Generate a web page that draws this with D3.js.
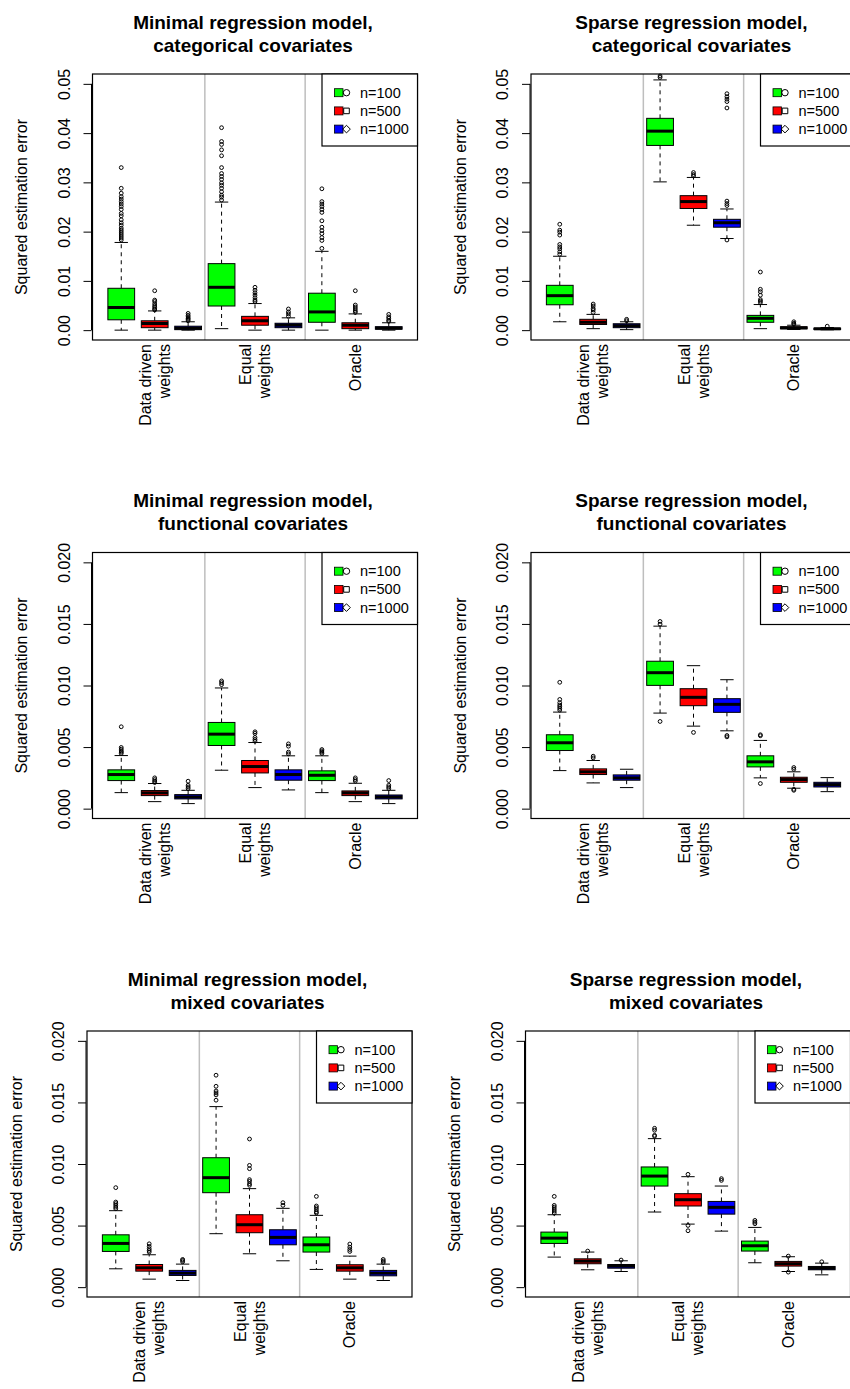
<!DOCTYPE html>
<html>
<head>
<meta charset="utf-8">
<script src="https://cdn.jsdelivr.net/npm/d3@7"></script>
<style>
  body { margin: 0; background: #fff; }
  svg text { font-family: "Liberation Sans", Arial, Helvetica, sans-serif; fill: #000; }
</style>
</head>
<body>
<div id="chart"></div>
<script>
// methods (x groups) and sample sizes (boxes inside each group)
const methods = [["Data driven", "weights"], ["Equal", "weights"], ["Oracle"]];
const sampleSizes = ["n=100", "n=500", "n=1000"];
const sizeColors = ["#00ff00", "#ff0000", "#0000ff"];
const sizeSymbols = ["circle", "square", "diamond"];

const panelTitles = [
  ["Minimal regression model,", "categorical covariates"],
  ["Sparse regression model,", "categorical covariates"],
  ["Minimal regression model,", "functional covariates"],
  ["Sparse regression model,", "functional covariates"],
  ["Minimal regression model,", "mixed covariates"],
  ["Sparse regression model,", "mixed covariates"]
];
const yLabel = "Squared estimation error";
const panelMax = [0.05, 0.05, 0.02, 0.02, 0.02, 0.02];
const catTicks = [0, 0.01, 0.02, 0.03, 0.04, 0.05];
const funTicks = [0, 0.005, 0.01, 0.015, 0.02];

// box stats: [lower whisker, Q1, median, Q3, upper whisker]
// order: DD n100, n500, n1000, EW n100, n500, n1000, Oracle n100, n500, n1000
const minCatBoxes = [
  [0, 0.0021, 0.0046, 0.0085, 0.0178],
  [0, 0.0005, 0.00135, 0.0019, 0.0039],
  [0, 0.0001, 0.0004, 0.0008, 0.0017],
  [0.0003, 0.0049, 0.0087, 0.0135, 0.026],
  [0, 0.001, 0.0019, 0.0028, 0.0054],
  [0, 0.0005, 0.001, 0.0014, 0.0025],
  [0, 0.0016, 0.0037, 0.0075, 0.016],
  [0, 0.0003, 0.001, 0.0015, 0.0033],
  [0, 0.0002, 0.0004, 0.0007, 0.0015]
];
const minCatOutliers = [
  [0.033, 0.0288, 0.0278, 0.0271, 0.0266, 0.0261, 0.0256, 0.0251, 0.0245, 0.0237, 0.0232, 0.0224, 0.0218, 0.0213, 0.0207, 0.0203, 0.0199, 0.0195, 0.0191, 0.0187, 0.0183],
  [0.008, 0.0061, 0.0058, 0.0053, 0.0049, 0.0046, 0.0043, 0.0041],
  [0.0034, 0.003, 0.0027, 0.0024, 0.0022, 0.0019],
  [0.0411, 0.0383, 0.0377, 0.0366, 0.0354, 0.033, 0.0318, 0.0312, 0.0306, 0.0299, 0.0294, 0.0288, 0.0281, 0.0274, 0.027, 0.0264],
  [0.0087, 0.0081, 0.0076, 0.0071, 0.0066, 0.0061, 0.0058],
  [0.0043, 0.0037, 0.0033, 0.0028],
  [0.0287, 0.0261, 0.0256, 0.0251, 0.0245, 0.0239, 0.0222, 0.0209, 0.0202, 0.0196, 0.0188, 0.0182, 0.0166],
  [0.008, 0.0051, 0.0047, 0.0043, 0.0039, 0.0036],
  [0.0032, 0.0027, 0.0024, 0.002, 0.0018]
];

const spCatBoxes = [
  [0.0017, 0.00515, 0.007, 0.0091, 0.015],
  [0.0003, 0.00115, 0.0016, 0.0022, 0.0032],
  [0.0001, 0.0005, 0.0009, 0.0013, 0.0017],
  [0.0301, 0.0375, 0.0404, 0.043, 0.0508],
  [0.0213, 0.0247, 0.0261, 0.0273, 0.031],
  [0.0186, 0.0209, 0.0218, 0.0225, 0.0246],
  [0.0003, 0.0016, 0.0024, 0.003, 0.0052],
  [0.00014, 0.00027, 0.00047, 0.00068, 0.001],
  [0.00007, 0.00014, 0.00027, 0.0004, 0.00054]
];
const spCatOutliers = [
  [0.0215, 0.0203, 0.0199, 0.0193, 0.0174, 0.0169, 0.0165, 0.0159, 0.0154],
  [0.0053, 0.0049, 0.0044, 0.0041, 0.0036],
  [0.0022, 0.0019],
  [0.0516, 0.0513],
  [0.032, 0.0316, 0.0313],
  [0.048, 0.0474, 0.0469, 0.0464, 0.0451, 0.0262, 0.0257, 0.0253, 0.0183],
  [0.0118, 0.0083, 0.0078, 0.0071, 0.0062, 0.0059, 0.0056],
  [0.0017, 0.0014, 0.0012],
  [0.0008]
];

const minFunBoxes = [
  [0.0013, 0.00228, 0.00277, 0.00315, 0.00431],
  [0.00057, 0.00106, 0.00128, 0.00147, 0.00204],
  [0.00041, 0.00079, 0.00095, 0.00114, 0.00149],
  [0.00312, 0.00513, 0.00605, 0.007, 0.0098],
  [0.00171, 0.0029, 0.00342, 0.00391, 0.00537],
  [0.00152, 0.00231, 0.00277, 0.00315, 0.00429],
  [0.0013, 0.00228, 0.00271, 0.00307, 0.00429],
  [0.00057, 0.00106, 0.00128, 0.00144, 0.00206],
  [0.00041, 0.00079, 0.00095, 0.00111, 0.00149]
];
const minFunOutliers = [
  [0.00665, 0.00497, 0.00483, 0.00469, 0.00459, 0.00448],
  [0.0025, 0.00236, 0.00223, 0.00212],
  [0.00223, 0.0019, 0.00176, 0.00163],
  [0.01037, 0.01023, 0.01007],
  [0.00624, 0.00611, 0.00578, 0.00562, 0.00548],
  [0.00526, 0.00507, 0.00459, 0.00445],
  [0.0048, 0.00469, 0.00459, 0.00448],
  [0.0025, 0.00236, 0.00223],
  [0.00228, 0.0019, 0.00176, 0.00163]
];

const spFunBoxes = [
  [0.00309, 0.00472, 0.00535, 0.006, 0.00784],
  [0.00209, 0.00277, 0.00299, 0.00323, 0.00391],
  [0.00171, 0.00231, 0.0025, 0.00274, 0.0032],
  [0.00776, 0.01001, 0.01104, 0.01197, 0.01482],
  [0.0067, 0.00836, 0.00904, 0.00974, 0.01161],
  [0.00632, 0.00782, 0.00847, 0.00893, 0.01047],
  [0.0025, 0.00339, 0.0038, 0.00429, 0.00554],
  [0.00166, 0.00214, 0.00236, 0.00255, 0.00299],
  [0.00138, 0.00176, 0.00195, 0.00214, 0.00252]
];
const spFunOutliers = [
  [0.01026, 0.00887, 0.0086, 0.00841, 0.00828, 0.00814, 0.008],
  [0.00426, 0.00412],
  [],
  [0.0152, 0.01498, 0.00708],
  [0.00619],
  [0.00594, 0.00583],
  [0.006, 0.00592, 0.00204],
  [0.00334, 0.0032, 0.00157, 0.00149],
  []
];

const minMixBoxes = [
  [0.00149, 0.0029, 0.00355, 0.00425, 0.00621],
  [0.00065, 0.0013, 0.00157, 0.00184, 0.00263],
  [0.00054, 0.00095, 0.00114, 0.00136, 0.00187],
  [0.00434, 0.00767, 0.00889, 0.01051, 0.01466],
  [0.00271, 0.00442, 0.00507, 0.00588, 0.008],
  [0.00214, 0.00344, 0.00404, 0.00466, 0.0064],
  [0.00144, 0.00285, 0.00344, 0.00407, 0.00583],
  [0.00065, 0.0013, 0.00157, 0.00182, 0.00252],
  [0.00054, 0.00092, 0.00114, 0.00136, 0.00187]
];
const minMixOutliers = [
  [0.00808, 0.00691, 0.00678, 0.00664, 0.0065, 0.00637],
  [0.00352, 0.00331, 0.00312, 0.00298, 0.00285],
  [0.00225, 0.00217, 0.00206],
  [0.01721, 0.01631, 0.01593, 0.01577, 0.01561, 0.01518],
  [0.01203, 0.00989, 0.00962, 0.00873, 0.00859, 0.0084, 0.00827],
  [0.00686, 0.00664],
  [0.00737, 0.00659, 0.00645, 0.00629, 0.00612, 0.00602],
  [0.0035, 0.00325, 0.00306, 0.0029],
  [0.00225, 0.00212, 0.002]
];

const spMixBoxes = [
  [0.00244, 0.00355, 0.00398, 0.00447, 0.00588],
  [0.00141, 0.0019, 0.00211, 0.0023, 0.00285],
  [0.00127, 0.00154, 0.00171, 0.00184, 0.00214],
  [0.0061, 0.00821, 0.00902, 0.00976, 0.01206],
  [0.00512, 0.00659, 0.0071, 0.00759, 0.00897],
  [0.00455, 0.00593, 0.00648, 0.00696, 0.00821],
  [0.00198, 0.00293, 0.00336, 0.00374, 0.00485],
  [0.00127, 0.00171, 0.0019, 0.00209, 0.00247],
  [0.001, 0.00141, 0.00154, 0.00168, 0.00195]
];
const spMixOutliers = [
  [0.00737, 0.00664, 0.0065, 0.00634, 0.00618, 0.00602],
  [0.00293],
  [0.0022],
  [0.0129, 0.01274, 0.01233, 0.01225],
  [0.00916, 0.00501, 0.00458],
  [0.00881, 0.00867],
  [0.00542, 0.00528, 0.00515],
  [0.00252, 0.00122],
  [0.00206]
];

const panelBoxes = [minCatBoxes, spCatBoxes, minFunBoxes, spFunBoxes, minMixBoxes, spMixBoxes];
const panelOutliers = [minCatOutliers, spCatOutliers, minFunOutliers, spFunOutliers, minMixOutliers, spMixOutliers];
const panelTicks = [catTicks, catTicks, funTicks, funTicks, funTicks, funTicks];
const panelFormat = [".2f", ".2f", ".3f", ".3f", ".3f", ".3f"];

// layout of the plot regions
const width = 850, height = 1389;
const panelLeft = [92.5, 531, 92.5, 531, 87, 525.5];
const panelTop = [74, 74, 552.5, 552.5, 1031, 1031];
const plotW = 325, plotH = 266;

const svg = d3.select("#chart").append("svg")
  .attr("width", width)
  .attr("height", height)
  .style("background", "#fff");

panelBoxes.forEach((boxes, k) => {
  const g = svg.append("g")
    .attr("transform", `translate(${panelLeft[k]},${panelTop[k]})`);

  const x = d3.scaleLinear().domain([0.14, 9.86]).range([0, plotW]);
  const yMax = panelMax[k];
  const y = d3.scaleLinear().domain([-0.04 * yMax, 1.04 * yMax]).range([plotH, 0]);

  // group separators
  g.selectAll(".sep")
    .data([3.5, 6.5]).enter()
    .append("line")
      .attr("x1", (d) => x(d)).attr("x2", (d) => x(d))
      .attr("y1", 0).attr("y2", plotH)
      .attr("stroke", "#bebebe")
      .attr("stroke-width", 1.5);

  const bw = x(1.4) - x(1);   // half box width
  const cap = x(1.2) - x(1);  // half staple width

  const box = g.selectAll(".box")
    .data(boxes).enter()
    .append("g")
      .attr("class", "box")
      .attr("transform", (d, i) => `translate(${x(i + 1)},0)`);

  // whiskers
  box.append("line")
    .attr("y1", (d) => y(d[3])).attr("y2", (d) => y(d[4]))
    .attr("stroke", "#000").attr("stroke-dasharray", "4,4");
  box.append("line")
    .attr("y1", (d) => y(d[1])).attr("y2", (d) => y(d[0]))
    .attr("stroke", "#000").attr("stroke-dasharray", "4,4");
  box.append("line")
    .attr("x1", -cap).attr("x2", cap)
    .attr("y1", (d) => y(d[4])).attr("y2", (d) => y(d[4]))
    .attr("stroke", "#000");
  box.append("line")
    .attr("x1", -cap).attr("x2", cap)
    .attr("y1", (d) => y(d[0])).attr("y2", (d) => y(d[0]))
    .attr("stroke", "#000");

  box.append("rect")
    .attr("x", -bw)
    .attr("width", 2 * bw)
    .attr("y", (d) => y(d[3]))
    .attr("height", (d) => Math.max(0.5, y(d[1]) - y(d[3])))
    .attr("fill", (d, i) => sizeColors[i % 3])
    .attr("stroke", "#000")
    .attr("stroke-width", 1);

  box.append("line")
    .attr("x1", -bw).attr("x2", bw)
    .attr("y1", (d) => y(d[2])).attr("y2", (d) => y(d[2]))
    .attr("stroke", "#000")
    .attr("stroke-width", 3);

  // outliers
  box.selectAll(".out")
    .data((d, i) => panelOutliers[k][i]).enter()
    .append("circle")
      .attr("cx", 0)
      .attr("cy", (d) => y(d))
      .attr("r", 1.9)
      .attr("fill", "none")
      .attr("stroke", "#000")
      .attr("stroke-width", 1);

  // frame
  g.append("rect")
    .attr("width", plotW).attr("height", plotH)
    .attr("fill", "none")
    .attr("stroke", "#000")
    .attr("stroke-width", 1.2);

  // y axis
  const yAxis = d3.axisLeft(y)
    .tickValues(panelTicks[k])
    .tickFormat(d3.format(panelFormat[k]))
    .tickSizeOuter(0)
    .tickSize(8);
  const ax = g.append("g").attr("transform", "translate(-1,0)").call(yAxis);
  ax.select(".domain").remove();
  ax.selectAll(".tick line").attr("stroke", "#000");
  ax.selectAll(".tick text")
    .attr("transform", "rotate(-90)")
    .attr("x", 0).attr("y", -22).attr("dy", 0)
    .attr("text-anchor", "middle")
    .style("font-size", "16px")
    .style("font-family", "'Liberation Sans', Arial, sans-serif");
  ax.append("line")
    .attr("y1", y(0)).attr("y2", y(yMax))
    .attr("stroke", "#000");

  g.append("text")
    .attr("transform", `translate(-65.5,${plotH / 2}) rotate(-90)`)
    .attr("text-anchor", "middle")
    .style("font-size", "16px")
    .text(yLabel);

  // x labels (perpendicular)
  methods.forEach((lines, j) => {
    const cx = x(3 * j + 2);
    lines.forEach((line, li) => {
      const off = 5.5 + (li - (lines.length - 1) / 2) * 19;
      g.append("text")
        .attr("transform", `translate(${cx + off},${plotH + 4}) rotate(-90)`)
        .attr("text-anchor", "end")
        .style("font-size", "16px")
        .text(line);
    });
  });

  // title
  g.selectAll(".title")
    .data(panelTitles[k]).enter()
    .append("text")
      .attr("x", plotW / 2 - 2)
      .attr("y", (d, i) => -45.5 + i * 23)
      .attr("text-anchor", "middle")
      .style("font-size", "19px")
      .style("font-weight", "bold")
      .text((d) => d);

  // legend
  const lg = g.append("g").attr("transform", "translate(229.5,0)");
  lg.append("rect")
    .attr("width", plotW - 229.5).attr("height", 72)
    .attr("fill", "#fff")
    .attr("stroke", "#000")
    .attr("stroke-width", 1.2);
  const item = lg.selectAll(".item")
    .data(sampleSizes).enter()
    .append("g")
      .attr("transform", (d, i) => `translate(0,${18.7 + i * 18.2})`);
  item.append("rect")
    .attr("x", 12.5).attr("y", -4)
    .attr("width", 8.5).attr("height", 8)
    .attr("fill", (d, i) => sizeColors[i])
    .attr("stroke", "#000")
    .attr("stroke-width", 0.8);
  item.append("path")
    .attr("transform", "translate(24.5,0)")
    .attr("d", (d, i) => {
      if (sizeSymbols[i] === "circle") return "M3.2,0A3.2,3.2 0 1,1 -3.2,0A3.2,3.2 0 1,1 3.2,0Z";
      if (sizeSymbols[i] === "square") return "M-2.8,-2.8H2.8V2.8H-2.8Z";
      return "M0,-3.8L3.8,0L0,3.8L-3.8,0Z";
    })
    .attr("fill", "none")
    .attr("stroke", "#000")
    .attr("stroke-width", 1);
  item.append("text")
    .attr("x", 38)
    .attr("dy", "0.35em")
    .style("font-size", "14.5px")
    .text((d) => d);
});
</script>
</body>
</html>
